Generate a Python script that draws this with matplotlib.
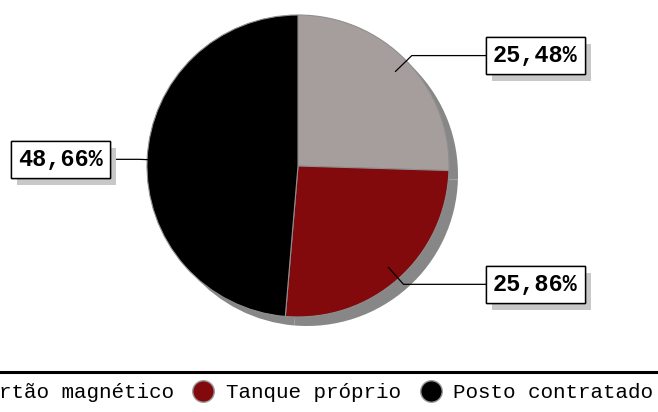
import numpy as np
import matplotlib
matplotlib.use("Agg")
import matplotlib.pyplot as plt
from matplotlib.lines import Line2D
import matplotlib.patheffects as pe

categories = ["Cartão magnético", "Tanque próprio", "Posto contratado"]
values = [25.48, 25.86, 48.66]
colors = ["#a69e9d", "#820a0c", "#000000"]

W, H = 658, 412
fig = plt.figure(figsize=(W / 100, H / 100), dpi=100)
ax = fig.add_axes([0, 0, 1, 1])

cx, cy, r = 298, 246, 151
# shadow
ax.pie(values, colors=["#878787"] * 3, startangle=90, counterclock=False,
       center=(cx + 9, cy - 9), radius=r, frame=True,
       wedgeprops=dict(edgecolor="none", linewidth=0))
wedges, _ = ax.pie(values, colors=colors, startangle=90, counterclock=False,
                   center=(cx, cy), radius=r, frame=True,
                   wedgeprops=dict(edgecolor="#8f8f8f", linewidth=0.8))

mono = "Liberation Mono"
fs = 17
pad = 0.3
pad_px = pad * fs * 100 / 72
for w, v in zip(wedges, values):
    a = np.deg2rad((w.theta1 + w.theta2) / 2)
    ca, sa = np.cos(a), np.sin(a)
    p0 = (cx + 0.9 * r * ca, cy + 0.9 * r * sa)
    p1 = (cx + 1.05 * r * ca, cy + 1.05 * r * sa)
    side = 1 if ca >= 0 else -1
    bx = cx + side * 1.245 * r
    ax.plot([p0[0], p1[0], bx], [p0[1], p1[1], p1[1]], color="black", lw=0.9, zorder=5)
    label = f"{v:.2f}".replace(".", ",") + "%"
    t = ax.text(bx + side * pad_px, p1[1], label, ha="left" if side > 0 else "right",
                va="center", fontsize=fs, fontweight="bold", family=mono, zorder=6,
                bbox=dict(boxstyle=f"square,pad={pad}", fc="white", ec="black", lw=1))
    t.get_bbox_patch().set_path_effects([
        pe.withSimplePatchShadow(offset=(4.5, -5), shadow_rgbFace="#c8c8c8", alpha=1.0),
        pe.Normal()])

# separator line above legend
ax.axhline(H - 372, color="black", lw=2.2)

handles = [Line2D([], [], marker="o", ls="none", markersize=15.5,
                  markerfacecolor=c, markeredgecolor="#9a9a9a", markeredgewidth=1)
           for c in colors]
leg = ax.legend(handles, categories, loc="center", ncol=3, frameon=False,
                bbox_to_anchor=(297 / W, 1 - 393 / H), bbox_transform=fig.transFigure,
                prop=dict(family=mono, size=15), handlelength=1.0,
                handletextpad=0.58, columnspacing=0.92, borderpad=0, borderaxespad=0)

ax.set_xlim(0, W)
ax.set_ylim(0, H)
ax.set_aspect("equal")
ax.axis("off")
fig.savefig("out.png", dpi=100)
